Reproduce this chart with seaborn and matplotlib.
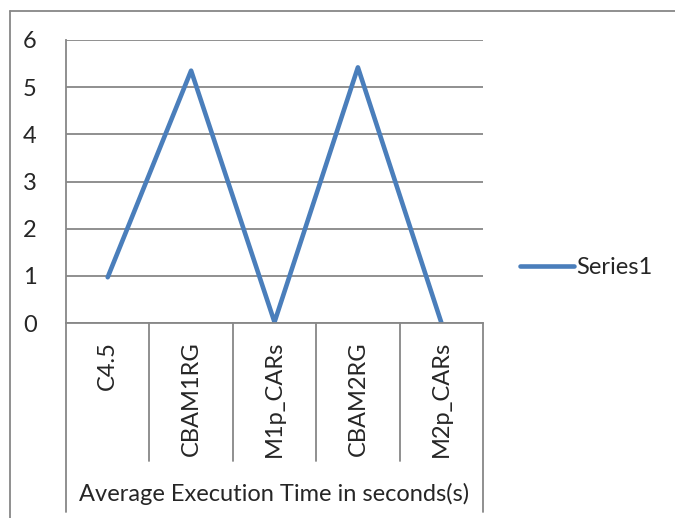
import numpy as np
import pandas as pd
import matplotlib
matplotlib.use("Agg")
import matplotlib.pyplot as plt
from matplotlib.lines import Line2D
import seaborn as sns

categories = ["C4.5", "CBAM1RG", "M1p_CARs", "CBAM2RG", "M2p_CARs"]
values = [0.97, 5.35, 0.02, 5.42, 0.01]
y_ticks = [0, 1, 2, 3, 4, 5, 6]
axis_title = "Average Execution Time in seconds(s)"
series_name = "Series1"

W, H = 675, 518
line_color = "#4A7EBB"
grid_color = "#878787"
fs = 17

sns.set_style("white")
plt.rcParams["font.family"] = ["Lato", "DejaVu Sans"]

df = pd.DataFrame({"cat": categories, "val": values, "series": series_name})

fig = plt.figure(figsize=(W / 100, H / 100), dpi=100)
# plot area in pixels: x 66..483, y 40..323
ax = fig.add_axes([66 / W, 1 - 323 / H, (483 - 66) / W, (323 - 40) / H])

sns.lineplot(data=df, x="cat", y="val", ax=ax, color=line_color, lw=3.3,
             sort=False, legend=False)

n = len(categories)
ax.set_xlim(-0.5, n - 0.5)
ax.set_ylim(0, 6)
ax.set_yticks(y_ticks)
ax.set_yticklabels([str(t) for t in y_ticks], fontsize=fs)
ax.yaxis.grid(True, color=grid_color, lw=1.3)
ax.tick_params(axis="y", length=9, color=grid_color, width=1.3, pad=12)
ax.set_xticks([])
ax.set_xlabel("")
ax.set_ylabel("")
for s in ["top", "right"]:
    ax.spines[s].set_visible(False)
for s in ["left", "bottom"]:
    ax.spines[s].set_color(grid_color)
    ax.spines[s].set_linewidth(1.3)

# category labels and divider lines below the axis
h_px = 323 - 40
trans = ax.get_xaxis_transform()
for i, c in enumerate(categories):
    ax.text(i, -18 / h_px, c, rotation=90, ha="center", va="top",
            fontsize=fs, transform=trans)
for b in np.arange(-0.5, n, 1.0):
    bottom = -(512 - 323) if b in (-0.5, n - 0.5) else -(461 - 323)
    ax.plot([b, b], [0, bottom / h_px], color=grid_color, lw=1.3,
            transform=trans, clip_on=False)

ax.text(0.5 * (n - 1), -(494 - 323) / h_px, axis_title, ha="center",
        va="center", fontsize=fs, transform=trans)

# legend
handle = Line2D([0], [0], color=line_color, lw=3.3)
fig.legend([handle], [series_name], loc="center left",
           bbox_to_anchor=(520 / W, 1 - 268 / H), frameon=False, fontsize=fs,
           handlelength=2.3, handletextpad=0.1, borderaxespad=0, borderpad=0)

# outer chart frame
fig.add_artist(Line2D([10 / W, 10 / W], [0, 1 - 11 / H], color=grid_color,
                      lw=1.3, transform=fig.transFigure))
fig.add_artist(Line2D([10 / W, 1], [1 - 11 / H, 1 - 11 / H], color=grid_color,
                      lw=1.3, transform=fig.transFigure))

fig.savefig("out.png", dpi=100)
